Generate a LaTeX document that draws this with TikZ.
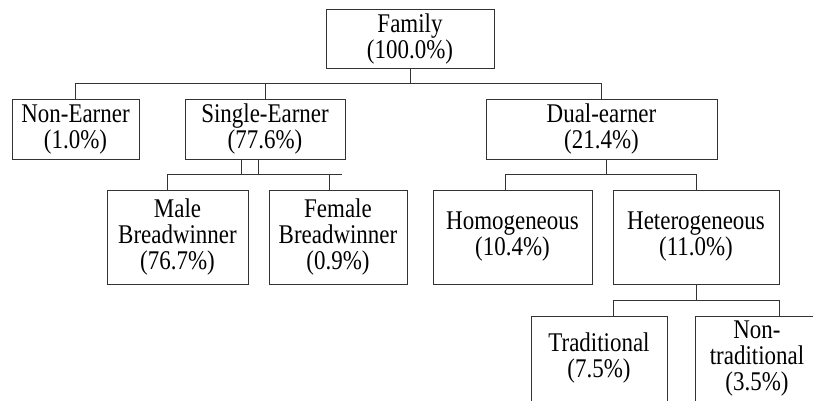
\documentclass[tikz,border=0pt]{standalone}
\usepackage{fontspec}
\setmainfont[FakeStretch=0.85]{Liberation Serif}
\begin{document}
\begin{tikzpicture}[x=1pt,y=-1pt,
  box/.style={draw=black!80, line width=1pt, inner sep=0pt, outer sep=0pt,
    align=center, font=\fontsize{27}{26}\selectfont},
  openbox/.style={box, draw=none},
  link/.style={draw=black!80, line width=1pt}]
\useasboundingbox[fill=white] (0,0) rectangle (813,401);
% boxes
\node[box, minimum width=168, minimum height=59] (fam) at (410,39.5) {Family\\(100.0\%)};
\node[box, minimum width=127, minimum height=59] (ne) at (75.5,129.5) {Non-Earner\\(1.0\%)};
\node[box, minimum width=160, minimum height=59] (se) at (265,129.5) {Single-Earner\\(77.6\%)};
\node[box, minimum width=231, minimum height=59] (de) at (601.5,129.5) {Dual-earner\\(21.4\%)};
\node[box, minimum width=141, minimum height=94] (mb) at (177.5,237) {Male\\Breadwinner\\(76.7\%)};
\node[box, minimum width=138, minimum height=94] (fb) at (338,237) {Female\\Breadwinner\\(0.9\%)};
\node[box, minimum width=159, minimum height=94] (ho) at (512.5,237) {Homogeneous\\(10.4\%)};
\node[box, minimum width=166, minimum height=94] (he) at (696,237) {Heterogeneous\\(11.0\%)};
\node[openbox, minimum width=136, minimum height=85] (tr) at (599,358.5) {Traditional\\(7.5\%)};
\node[openbox, minimum width=124, minimum height=85] (nt) at (757,358.5) {Non-\\traditional\\(3.5\%)};
\draw[link] (tr.south west) -- (tr.north west) -- (tr.north east) -- (tr.south east);
\coordinate (ntr) at (813,316);
\draw[link] (nt.south west) -- (nt.north west) -- (ntr);
% bus lines
\coordinate (bus1) at (0,84);
\coordinate (bus2) at (0,174);
\coordinate (bus3) at (0,300);
\draw[link] (fam.south) -- (fam.south |- bus1);
\draw[link] (ne.north) -- (ne.north |- bus1) -- (de.north |- bus1) -- (de.north);
\draw[link] (se.north) -- (se.north |- bus1);
% single-earner children
\coordinate (s1) at ([xshift=-24pt]se.south);
\coordinate (s2) at ([xshift=-7pt]se.south);
\coordinate (m1) at ([xshift=-10.5pt]mb.north);
\coordinate (f1) at ([xshift=-9pt]fb.north);
\coordinate (bus2e) at (342,174);
\draw[link] (s1) -- (s1 |- bus2);
\draw[link] (s2) -- (s2 |- bus2);
\draw[link] (m1) -- (m1 |- bus2) -- (bus2e);
\draw[link] (f1) -- (f1 |- bus2);
% dual-earner children
\coordinate (d1) at ([xshift=4.5pt]de.south);
\coordinate (h1) at ([xshift=-7.5pt]ho.north);
\draw[link] (d1) -- (d1 |- bus2);
\draw[link] (h1) -- (h1 |- bus2) -- (he.north |- bus2) -- (he.north);
% heterogeneous children
\coordinate (t1) at ([xshift=14pt]tr.north);
\coordinate (n1) at ([xshift=22pt]nt.north);
\draw[link] (he.south) -- (he.south |- bus3);
\draw[link] (t1) -- (t1 |- bus3) -- (n1 |- bus3) -- (n1);
\end{tikzpicture}
\end{document}
